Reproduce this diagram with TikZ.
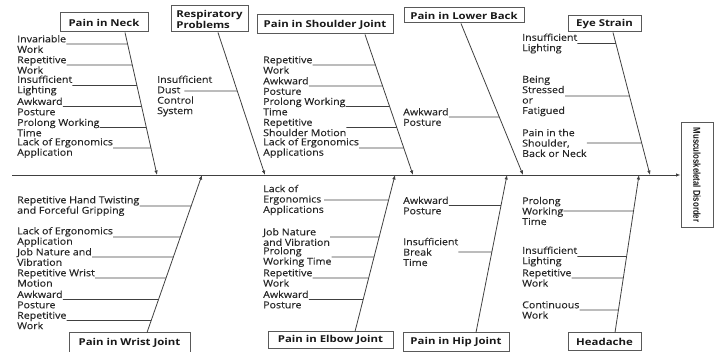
\documentclass[tikz,border=0pt]{standalone}
\usepackage{fontspec}
\usetikzlibrary{arrows.meta}
\newfontfamily\causefont{Open Sans}[FakeStretch=1.12, FakeBold=0.25]
\newfontfamily\effectfont{Open Sans}[FakeStretch=1.2]
\newfontfamily\narrowfont{Liberation Sans}[FakeStretch=0.78]

\begin{document}
\begin{tikzpicture}[x=1pt, y=-1pt,
    effect/.style={draw=black!65, line width=1pt, inner sep=0pt, align=left, text=black!90,
      font=\effectfont\bfseries\fontsize{9.5}{11}\selectfont},
    cause/.style={anchor=west, align=left, inner sep=0pt, text=black!85,
      font=\causefont\fontsize{9.5}{10.4}\selectfont},
    bone/.style={draw=black!75, line width=0.8pt, -{Latex[length=4.5pt,width=3.5pt]}},
    rib/.style={draw=black!75, line width=0.7pt}]
    \useasboundingbox (0,0) rectangle (725,352);

    \node[effect, minimum width=88, minimum height=19] (nk) at (104,22.5) {Pain in Neck};
    \node[effect, minimum width=77, minimum height=26] (rp) at (209.5,19) {Respiratory\\Problems};
    \node[effect, minimum width=136, minimum height=19] (sh) at (325,24.5) {Pain in Shoulder Joint};
    \node[effect, minimum width=120, minimum height=15] (lb) at (464,15.5) {Pain in Lower Back};
    \node[effect, minimum width=73, minimum height=16] (ey) at (604.5,24) {Eye Strain};

    \node[effect, minimum width=121, minimum height=20] (wr) at (129.5,343) {Pain in Wrist Joint};
    \node[effect, minimum width=125, minimum height=16] (eb) at (330.5,340) {Pain in Elbow Joint};
    \node[effect, minimum width=106, minimum height=18] (hp) at (456,342) {Pain in Hip Joint};
    \node[effect, minimum width=73, minimum height=17] (hd) at (604.5,341.5) {Headache};

    \node[effect, rotate=-90, minimum width=105, minimum height=32,
      font=\narrowfont\bfseries\fontsize{10}{11}\selectfont] (md) at (697,175) {Musculoskeletal Disorder};

    \coordinate (tail) at (12,175);
    \draw[bone] (tail) -- (md);

    \coordinate (nkT) at (nk.south -| 125,0);
    \coordinate (nkS) at (157,175);
    \coordinate (rpT) at (rp.south -| 218,0);
    \coordinate (rpS) at (265,175);
    \coordinate (shT) at (sh.south -| 365,0);
    \coordinate (shS) at (413,175);
    \coordinate (lbT) at (lb.south -| 461,0);
    \coordinate (lbS) at (523,175);
    \coordinate (eyT) at (ey.south -| 613,0);
    \coordinate (eyS) at (650,175);

    \coordinate (wrB) at (wr.north -| 147,0);
    \coordinate (wrS) at (202,175);
    \coordinate (ebB) at (eb.north -| 355,0);
    \coordinate (ebS) at (395,175);
    \coordinate (hpB) at (hp.north -| 476,0);
    \coordinate (hpS) at (507,175);
    \coordinate (hdB) at (hd.north -| 615,0);
    \coordinate (hdS) at (639,175);

    \foreach \b in {nk,rp,sh,lb,ey}
      \draw[bone] (\b T) -- (\b S);
    \foreach \b in {wr,eb,hp,hd}
      \draw[bone] (\b B) -- (\b S);

    % upper causes
    \node[cause] (nk1) at (17,44) {Invariable\\Work};
    \node[cause] (nk2) at (17,65) {Repetitive\\Work};
    \node[cause] (nk3) at (17,85.5) {Insufficient\\Lighting};
    \node[cause] (nk4) at (17,106.5) {Awkward\\Posture};
    \node[cause] (nk5) at (17,127.5) {Prolong Working\\Time};
    \node[cause] (nk6) at (17,148) {Lack of Ergonomics\\Application};

    \node[cause] (rp1) at (157,96) {Insufficient\\Dust\\Control\\System};

    \node[cause] (sh1) at (263,65) {Repetitive\\Work};
    \node[cause] (sh2) at (263,86) {Awkward\\Posture};
    \node[cause] (sh3) at (263,106.5) {Prolong Working\\Time};
    \node[cause] (sh4) at (263,127.5) {Repetitive\\Shoulder Motion};
    \node[cause] (sh5) at (263,148) {Lack of Ergonomics\\Applications};

    \node[cause] (lb1) at (403,117) {Awkward\\Posture};

    \node[cause] (ey1) at (522,43.5) {Insufficient\\Lighting};
    \node[cause] (ey2) at (522,96) {Being\\Stressed\\or\\Fatigued};
    \node[cause] (ey3) at (522,143) {Pain in the\\Shoulder,\\Back or Neck};

    % lower causes
    \node[cause] (wr1) at (17,206) {Repetitive Hand Twisting\\and Forceful Gripping};
    \node[cause] (wr2) at (17,237) {Lack of Ergonomics\\Application};
    \node[cause] (wr3) at (17,257) {Job Nature and\\Vibration};
    \node[cause] (wr4) at (17,278) {Repetitive Wrist\\Motion};
    \node[cause] (wr5) at (17,299.5) {Awkward\\Posture};
    \node[cause] (wr6) at (17,320.5) {Repetitive\\Work};

    \node[cause] (eb1) at (263,200) {Lack of\\Ergonomics\\Applications};
    \node[cause] (eb2) at (263,237) {Job Nature\\and Vibration};
    \node[cause] (eb3) at (263,257) {Prolong\\Working Time};
    \node[cause] (eb4) at (263,278) {Repetitive\\Work};
    \node[cause] (eb5) at (263,299.5) {Awkward\\Posture};

    \node[cause] (hp1) at (403,205.5) {Awkward\\Posture};
    \node[cause] (hp2) at (403,252) {Insufficient\\Break\\Time};

    \node[cause] (hd1) at (522,211) {Prolong\\Working\\Time};
    \node[cause] (hd2) at (522,256.5) {Insufficient\\Lighting};
    \node[cause] (hd3) at (522,278) {Repetitive\\Work};
    \node[cause] (hd4) at (522,310) {Continuous\\Work};

    \foreach \c/\b in {nk1/nk,nk2/nk,nk3/nk,nk4/nk,nk5/nk,nk6/nk,
        sh1/sh,sh2/sh,sh3/sh,sh4/sh,sh5/sh,lb1/lb,ey1/ey,ey2/ey,ey3/ey}
      \draw[rib] (\c.east) -- (intersection of \b T--\b S and \c.west--\c.east);
    \foreach \c/\b in {wr1/wr,wr2/wr,wr3/wr,wr4/wr,wr5/wr,wr6/wr,
        eb1/eb,eb2/eb,eb3/eb,eb4/eb,eb5/eb,hp1/hp,hp2/hp,hd1/hd,hd2/hd,hd3/hd,hd4/hd}
      \draw[rib] (\c.east) -- (intersection of \b B--\b S and \c.west--\c.east);

    \coordinate (rp1a) at ([xshift=-28pt,yshift=5pt]rp1.east);
    \coordinate (rp1b) at ([yshift=5pt]rp1.west);
    \draw[rib] (rp1a) -- (intersection of rpT--rpS and rp1a--rp1b);
\end{tikzpicture}
\end{document}
